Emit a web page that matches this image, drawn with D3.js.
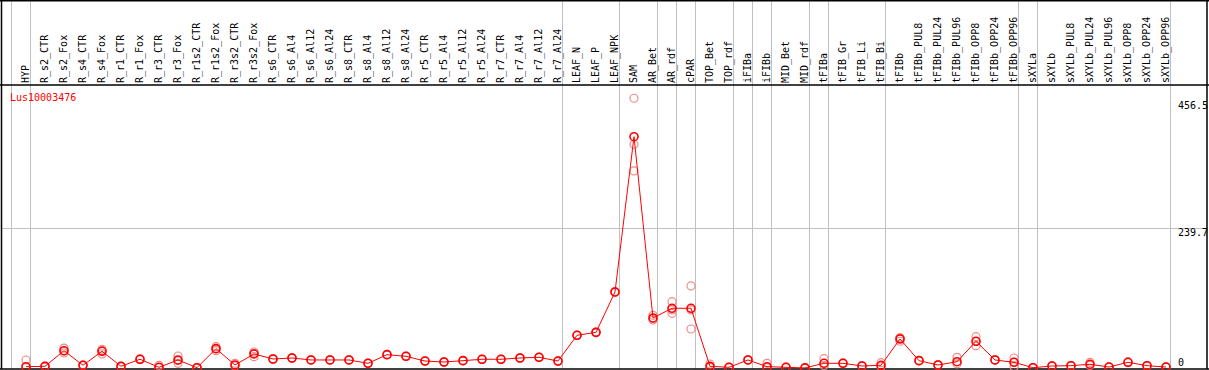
<!DOCTYPE html>
<html>
<head>
<meta charset="utf-8">
<script src="https://cdn.jsdelivr.net/npm/d3@7"></script>
<style>
  body { margin: 0; background: #fff; }
  text { font-family: "DejaVu Sans Mono", monospace; font-size: 10px; }
</style>
</head>
<body>
<div id="chart"></div>
<script>
const width = 1209;
const height = 370;

const geneId = "Lus10003476";

const samples = ["HYP", "R_s2_CTR", "R_s2_Fox", "R_s4_CTR", "R_s4_Fox", "R_r1_CTR", "R_r1_Fox",
  "R_r3_CTR", "R_r3_Fox", "R_r1s2_CTR", "R_r1s2_Fox", "R_r3s2_CTR", "R_r3s2_Fox", "R_s6_CTR",
  "R_s6_Al4", "R_s6_Al12", "R_s6_Al24", "R_s8_CTR", "R_s8_Al4", "R_s8_Al12", "R_s8_Al24",
  "R_r5_CTR", "R_r5_Al4", "R_r5_Al12", "R_r5_Al24", "R_r7_CTR", "R_r7_Al4", "R_r7_Al12",
  "R_r7_Al24", "LEAF_N", "LEAF_P", "LEAF_NPK", "SAM", "AR_Bet", "AR_rdf", "cPAR", "TOP_Bet",
  "TOP_rdf", "iFIBa", "iFIBb", "MID_Bet", "MID_rdf", "tFIBa", "tFIB_Gr", "tFIB_Li", "tFIB_Bi",
  "tFIBb", "tFIBb_PUL8", "tFIBb_PUL24", "tFIBb_PUL96", "tFIBb_OPP8", "tFIBb_OPP24", "tFIBb_OPP96",
  "sXYLa", "sXYLb", "sXYLb_PUL8", "sXYLb_PUL24", "sXYLb_PUL96", "sXYLb_OPP8", "sXYLb_OPP24",
  "sXYLb_OPP96"];

// mean expression per sample
const means = [2.1, 2.7, 29.5, 4.5, 28.5, 2.7, 14.8, 1.0, 13.6, 0.3, 33.0, 5.0, 23.9, 15.3,
  17.0, 13.6, 13.6, 13.6, 7.9, 22.7, 19.9, 11.8, 10.1, 12.4, 14.8, 14.8, 17.0, 18.2,
  11.8, 56.0, 61.0, 130.3, 396.8, 85.7, 102.3, 102.3, 2.7, 1.0, 13.6, 2.1, 1.0, 0.0,
  7.9, 7.9, 3.3, 4.5, 49.6, 12.4, 5.0, 10.6, 45.7, 13.6, 9.6, 0.3, 3.3, 3.8, 6.2, 1.5,
  9.6, 3.8, 1.5];

// individual replicates
const replicates = [[13.6, 1.5], [3.2, 2.2], [34.0, 25.6, 29.0], [5.2, 4.0], [32.0, 24.0, 29.5],
  [3.0, 2.4], [15.5, 14.2], [4.5, 0.5], [20.4, 7.9, 12.5], [0.8, 0.2], [36.4, 29.5, 33.0],
  [7.9, 3.5], [27.3, 19.2, 25.0], [15.8, 14.8], [17.6, 16.4], [14.1, 13.1], [14.1, 13.1],
  [14.1, 13.1], [8.4, 7.4], [23.2, 22.2], [20.4, 19.4], [12.3, 11.3], [10.6, 9.6], [12.9, 11.9],
  [15.3, 14.3], [15.3, 14.3], [17.5, 16.5], [18.7, 17.7], [12.3, 11.3], [56.5, 55.5], [61.5, 60.5],
  [131.0, 129.5], [462.8, 383.8, 338.0], [90.3, 82.2, 84.5], [113.6, 93.7, 99.5],
  [140.6, 66.8, 99.5], [6.7, 1.0], [1.5, 0.5], [14.2, 13.0], [7.9, 0.5], [1.5, 0.5], [0.5, 0.0],
  [15.8, 4.0], [8.5, 7.4], [3.8, 2.8], [8.9, 2.2], [50.8, 45.7, 52.0], [13.0, 11.8], [5.5, 4.5],
  [18.2, 7.0], [53.6, 38.1, 45.5], [14.2, 13.0], [17.0, 2.1, 9.6], [0.8, 0.0], [3.8, 2.8],
  [4.3, 3.3], [9.6, 4.5], [2.0, 1.0], [10.2, 9.0], [4.3, 3.3], [2.0, 1.0]];

// grey separators are drawn right after these samples
const groupEnds = ["HYP", "R_r7_Al24", "LEAF_NPK", "AR_Bet", "AR_rdf", "cPAR", "TOP_rdf", "iFIBa",
  "iFIBb", "MID_rdf", "tFIBa", "tFIB_Bi", "tFIBb_OPP96", "sXYLa", "sXYLb_OPP96"];

const tickValues = [456.5, 239.7, 0];
const gridValues = [239.7];

const headerBottom = 85;
const plotBottom = 369;

const svg = d3.select("#chart").append("svg")
    .attr("width", width)
    .attr("height", height);

const x = d3.scalePoint().domain(samples).range([26, 1166]);
const step = x.step();
const y = d3.scaleLinear().domain([0, 456.5]).range([367.9, 101.9]);

// vertical separators
const sepX = [x(samples[0]) - step + 4].concat(groupEnds.map(s => x(s) + 4));
svg.append("g")
    .selectAll("line")
    .data(sepX)
    .join("line")
    .attr("x1", d => Math.round(d) + 0.5).attr("x2", d => Math.round(d) + 0.5)
    .attr("y1", 0).attr("y2", plotBottom)
    .attr("stroke", "#c0c0c0")
    .attr("stroke-width", 1);

// horizontal grid
svg.append("g")
    .selectAll("line")
    .data(gridValues)
    .join("line")
    .attr("x1", 1).attr("x2", 1207)
    .attr("y1", d => Math.round(y(d)) + 0.5).attr("y2", d => Math.round(y(d)) + 0.5)
    .attr("stroke", "#c0c0c0")
    .attr("stroke-width", 1);

// frame
const frame = svg.append("g").attr("stroke", "#000").attr("stroke-width", 1.5);
frame.append("line").attr("x1", 0).attr("x2", width).attr("y1", 0.75).attr("y2", 0.75);
frame.append("line").attr("x1", 0).attr("x2", width).attr("y1", headerBottom).attr("y2", headerBottom);
frame.append("line").attr("x1", 0).attr("x2", width).attr("y1", plotBottom).attr("y2", plotBottom);
frame.append("line").attr("x1", 1.5).attr("x2", 1.5).attr("y1", 0).attr("y2", plotBottom);
frame.append("line").attr("x1", 1207).attr("x2", 1207).attr("y1", 0).attr("y2", plotBottom);

// sample labels
svg.append("g")
    .selectAll("text")
    .data(samples)
    .join("text")
    .attr("transform", d => `translate(${x(d) + 2.5},${headerBottom - 2}) rotate(-90)`)
    .attr("fill", "#000")
    .text(d => d);

// value labels
svg.append("g")
    .selectAll("text")
    .data(tickValues)
    .join("text")
    .attr("x", 1178)
    .attr("y", d => d === 0 ? 366 : y(d) + 7.5)
    .attr("fill", "#000")
    .text(d => d);

svg.append("text")
    .attr("x", 10)
    .attr("y", 101)
    .attr("fill", "#ff0000")
    .text(geneId);

// replicate circles
const repPoints = [];
replicates.forEach((vals, i) => vals.forEach(v => repPoints.push({ s: samples[i], v })));
svg.append("g")
    .selectAll("circle")
    .data(repPoints)
    .join("circle")
    .attr("cx", d => x(d.s))
    .attr("cy", d => y(d.v))
    .attr("r", 4)
    .attr("fill", "none")
    .attr("stroke", "#f08a8a")
    .attr("stroke-width", 1.2);

// mean markers
const meanData = samples.map((s, i) => ({ s, v: means[i] }));
svg.append("g")
    .selectAll("circle")
    .data(meanData)
    .join("circle")
    .attr("cx", d => x(d.s))
    .attr("cy", d => y(d.v))
    .attr("r", 4)
    .attr("fill", "none")
    .attr("stroke", "#ff0000")
    .attr("stroke-width", 1.6);

// mean line
svg.append("path")
    .datum(meanData)
    .attr("fill", "none")
    .attr("stroke", "#ff0000")
    .attr("stroke-width", 1)
    .attr("d", d3.line().x(d => x(d.s)).y(d => y(d.v)));
</script>
</body>
</html>
